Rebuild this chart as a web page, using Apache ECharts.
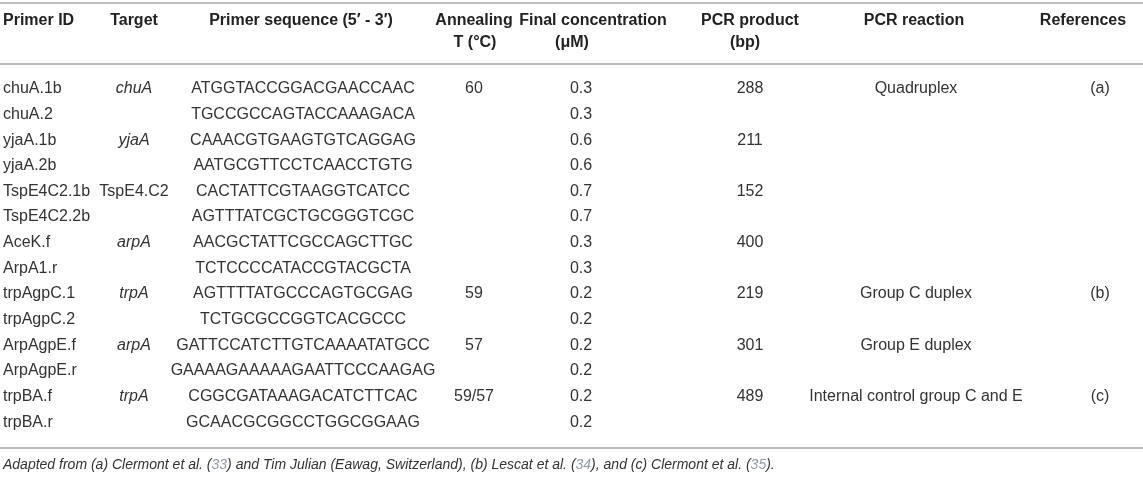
<!DOCTYPE html>
<html>
<head>
<meta charset="utf-8">
<script src="https://cdn.jsdelivr.net/npm/echarts@6/dist/echarts.min.js"></script>
<style>
html, body { margin: 0; padding: 0; background: #fff; }
#main { width: 1143px; height: 480px; }
</style>
</head>
<body>
<div id="main"></div>
<script>
// table data, one array per column
var primerIds = ['chuA.1b', 'chuA.2', 'yjaA.1b', 'yjaA.2b', 'TspE4C2.1b', 'TspE4C2.2b', 'AceK.f',
    'ArpA1.r', 'trpAgpC.1', 'trpAgpC.2', 'ArpAgpE.f', 'ArpAgpE.r', 'trpBA.f', 'trpBA.r'];
var targets = ['chuA', '', 'yjaA', '', 'TspE4.C2', '', 'arpA', '', 'trpA', '', 'arpA', '', 'trpA', ''];
var sequences = ['ATGGTACCGGACGAACCAAC', 'TGCCGCCAGTACCAAAGACA', 'CAAACGTGAAGTGTCAGGAG',
    'AATGCGTTCCTCAACCTGTG', 'CACTATTCGTAAGGTCATCC', 'AGTTTATCGCTGCGGGTCGC',
    'AACGCTATTCGCCAGCTTGC', 'TCTCCCCATACCGTACGCTA', 'AGTTTTATGCCCAGTGCGAG',
    'TCTGCGCCGGTCACGCCC', 'GATTCCATCTTGTCAAAATATGCC', 'GAAAAGAAAAAGAATTCCCAAGAG',
    'CGGCGATAAAGACATCTTCAC', 'GCAACGCGGCCTGGCGGAAG'];
var annealing = ['60', '', '', '', '', '', '', '', '59', '', '57', '', '59/57', ''];
var concentrations = [0.3, 0.3, 0.6, 0.6, 0.7, 0.7, 0.3, 0.3, 0.2, 0.2, 0.2, 0.2, 0.2, 0.2];
var products = ['288', '', '211', '', '152', '', '400', '', '219', '', '301', '', '489', ''];
var reactions = ['Quadruplex', '', '', '', '', '', '', '', 'Group C duplex', '', 'Group E duplex', '',
    'Internal control group C and E', ''];
var references = ['(a)', '', '', '', '', '', '', '', '(b)', '', '', '', '(c)', ''];
var headers = [
    ['Primer ID', ''], ['Target', ''], ['Primer sequence (5\u2032 - 3\u2032)', ''], ['Annealing', 'T (\u00b0C)'],
    ['Final concentration', '(\u03bcM)'], ['PCR product', '(bp)'], ['PCR reaction', ''], ['References', '']
];
var italicTargets = ['chuA', 'yjaA', 'arpA', 'trpA'];

// column layout
var colX = [3, 134, 303, 474, 581, 750, 916, 1100];
var colAlign = ['left', 'center', 'center', 'center', 'center', 'center', 'center', 'center'];
var headX = [[3, 0], [134, 0], [301, 0], [474, 475], [593, 572], [750, 745], [914, 0], [1083, 0]];

var FONT = '"Liberation Sans", Arial, Helvetica, sans-serif';

var cells = [];
primerIds.forEach(function (id, r) {
    var row = [id, targets[r], sequences[r], annealing[r], concentrations[r].toFixed(1),
        products[r], reactions[r], references[r]];
    row.forEach(function (txt, c) {
        if (txt !== '') cells.push([c, r, txt]);
    });
});

var graphics = [];
[3, 64, 448].forEach(function (y) {
    graphics.push({
        type: 'line', shape: { x1: 0, y1: y, x2: 1143, y2: y },
        style: { stroke: '#bcbcbc', lineWidth: 1.8 }, silent: true
    });
});
headers.forEach(function (h, c) {
    h.forEach(function (txt, k) {
        if (!txt) return;
        graphics.push({
            type: 'text', x: headX[c][k], y: k === 0 ? 21 : 43,
            style: {
                text: txt, fill: '#222', font: 'bold 16px ' + FONT,
                textAlign: colAlign[c], textVerticalAlign: 'middle'
            }
        });
    });
});
graphics.push({
    type: 'text', x: 3, y: 465,
    style: {
        text: '{t|Adapted from (a) Clermont et al. (}{n|33}{t|) and Tim Julian (Eawag, Switzerland), (b) Lescat et al. (}{n|34}{t|), and (c) Clermont et al. (}{n|35}{t|).}',
        textVerticalAlign: 'middle',
        rich: {
            t: { fill: '#333', font: 'italic 14px ' + FONT },
            n: { fill: '#909aa5', font: 'italic 14px ' + FONT }
        }
    }
});

var myChart = echarts.init(document.getElementById('main'));

option = {
    animation: false,
    grid: { left: 0, right: 0, top: 76, bottom: 45 },
    xAxis: { type: 'value', min: 0, max: 1143, show: false },
    yAxis: { type: 'category', data: primerIds, inverse: true, show: false },
    graphic: graphics,
    series: [{
        type: 'custom',
        data: cells,
        renderItem: function (params, api) {
            var c = api.value(0);
            var r = api.value(1);
            var txt = cells[params.dataIndex][2];
            var pt = api.coord([colX[c], r]);
            var italic = c === 1 && italicTargets.indexOf(txt) >= 0;
            return {
                type: 'text', x: pt[0], y: pt[1],
                style: {
                    text: txt, fill: '#333',
                    font: (italic ? 'italic ' : '') + '16px ' + FONT,
                    textAlign: colAlign[c], textVerticalAlign: 'middle'
                }
            };
        }
    }]
};

myChart.setOption(option);
</script>
</body>
</html>
